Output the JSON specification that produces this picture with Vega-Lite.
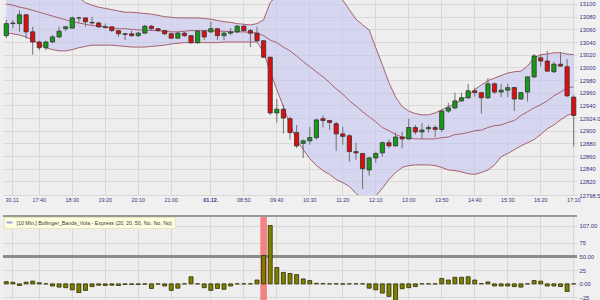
{
  "$schema": "https://vega.github.io/schema/vega-lite/v6.json",
  "background": "#f0f0f0",
  "padding": {"left": 2, "top": 0, "right": 0, "bottom": 0},
  "spacing": 12,
  "resolve": {"legend": {"color": "independent"}},
  "config": {
    "font": "Liberation Sans",
    "view": {"fill": "#eeeeee", "stroke": null},
    "axis": {"domain": false, "ticks": false, "gridColor": "#d8d8d8", "gridOpacity": 1, "labelColor": "#333380", "labelFont": "Liberation Sans", "labelOverlap": false, "title": null}
  },
  "data": {"values": [
    {"t":"11-30 16:50","o":13050,"h":13075,"l":13046,"c":13069,"u":13146,"m":13100,"b":13054,"v":4},
    {"t":"11-30 17:00","o":13070,"h":13075,"l":13062,"c":13069,"u":13142,"m":13098,"b":13053,"v":3},
    {"t":"11-30 17:10","o":13069,"h":13090,"l":13056,"c":13083,"u":13139,"m":13095,"b":13051,"v":-3},
    {"t":"11-30 17:20","o":13083,"h":13084,"l":13045,"c":13056,"u":13138,"m":13093,"b":13048,"v":3},
    {"t":"11-30 17:30","o":13056,"h":13064,"l":13020,"c":13040,"u":13138,"m":13090,"b":13043,"v":5},
    {"t":"11-30 17:40","o":13040,"h":13042,"l":13027,"c":13031,"u":13138,"m":13087,"b":13037,"v":2},
    {"t":"11-30 17:50","o":13031,"h":13042,"l":13027,"c":13040,"u":13137,"m":13084,"b":13031,"v":0},
    {"t":"11-30 18:00","o":13040,"h":13051,"l":13038,"c":13048,"u":13135,"m":13081,"b":13028,"v":-4},
    {"t":"11-30 18:10","o":13048,"h":13064,"l":13046,"c":13057,"u":13130,"m":13078,"b":13026,"v":-6},
    {"t":"11-30 18:20","o":13061,"h":13065,"l":13057,"c":13064,"u":13124,"m":13075,"b":13026,"v":-7},
    {"t":"11-30 18:30","o":13062,"h":13080,"l":13061,"c":13078,"u":13116,"m":13072,"b":13028,"v":-11},
    {"t":"11-30 18:40","o":13078,"h":13080,"l":13070,"c":13078,"u":13110,"m":13070,"b":13031,"v":-16},
    {"t":"11-30 18:50","o":13078,"h":13078,"l":13064,"c":13072,"u":13102,"m":13068,"b":13033,"v":-12},
    {"t":"11-30 19:00","o":13071,"h":13080,"l":13067,"c":13070,"u":13098,"m":13066,"b":13035,"v":-5},
    {"t":"11-30 19:10","o":13070,"h":13072,"l":13062,"c":13064,"u":13095,"m":13065,"b":13035,"v":-2.5},
    {"t":"11-30 19:20","o":13064,"h":13069,"l":13061,"c":13063,"u":13093,"m":13064,"b":13035,"v":-3},
    {"t":"11-30 19:30","o":13064,"h":13064,"l":13056,"c":13058,"u":13091,"m":13062,"b":13035,"v":-2.5},
    {"t":"11-30 19:40","o":13058,"h":13059,"l":13048,"c":13053,"u":13089,"m":13061,"b":13034,"v":-3},
    {"t":"11-30 19:50","o":13053,"h":13054,"l":13043,"c":13052,"u":13087,"m":13061,"b":13033,"v":-1},
    {"t":"11-30 20:00","o":13053,"h":13058,"l":13048,"c":13050,"u":13087,"m":13060,"b":13032,"v":-1},
    {"t":"11-30 20:10","o":13050,"h":13056,"l":13048,"c":13054,"u":13086,"m":13059,"b":13032,"v":-1},
    {"t":"11-30 20:20","o":13054,"h":13067,"l":13053,"c":13065,"u":13085,"m":13059,"b":13032,"v":-0.5},
    {"t":"11-30 20:30","o":13065,"h":13067,"l":13058,"c":13061,"u":13084,"m":13058,"b":13033,"v":-8.5},
    {"t":"11-30 20:40","o":13061,"h":13062,"l":13056,"c":13058,"u":13082,"m":13058,"b":13034,"v":-0.5},
    {"t":"11-30 20:50","o":13058,"h":13059,"l":13051,"c":13053,"u":13080,"m":13057,"b":13035,"v":-4},
    {"t":"11-30 21:00","o":13053,"h":13054,"l":13045,"c":13046,"u":13079,"m":13056,"b":13037,"v":-12},
    {"t":"11-30 21:10","o":13046,"h":13056,"l":13045,"c":13054,"u":13078,"m":13056,"b":13038,"v":-8},
    {"t":"11-30 21:20","o":13054,"h":13056,"l":13048,"c":13050,"u":13078,"m":13057,"b":13039,"v":0},
    {"t":"11-30 21:30","o":13050,"h":13051,"l":13037,"c":13039,"u":13078,"m":13058,"b":13039,"v":13},
    {"t":"11-30 21:40","o":13039,"h":13059,"l":13037,"c":13057,"u":13078,"m":13058,"b":13039,"v":0},
    {"t":"11-30 21:50","o":13057,"h":13059,"l":13043,"c":13048,"u":13077,"m":13058,"b":13039,"v":-7},
    {"t":"12-01 08:00","o":13056,"h":13072,"l":13054,"c":13061,"u":13076,"m":13058,"b":13039,"v":-12},
    {"t":"12-01 08:10","o":13061,"h":13062,"l":13043,"c":13050,"u":13074,"m":13057,"b":13039,"v":-8.5},
    {"t":"12-01 08:20","o":13050,"h":13056,"l":13043,"c":13054,"u":13072,"m":13057,"b":13040,"v":-10},
    {"t":"12-01 08:30","o":13054,"h":13062,"l":13051,"c":13056,"u":13071,"m":13056,"b":13040,"v":-4},
    {"t":"12-01 08:40","o":13056,"h":13067,"l":13054,"c":13065,"u":13069,"m":13056,"b":13040,"v":0},
    {"t":"12-01 08:50","o":13065,"h":13067,"l":13056,"c":13058,"u":13068,"m":13056,"b":13040,"v":0},
    {"t":"12-01 09:00","o":13058,"h":13061,"l":13032,"c":13054,"u":13067,"m":13055,"b":13040,"v":0},
    {"t":"12-01 09:10","o":13054,"h":13064,"l":13040,"c":13042,"u":13069,"m":13054,"b":13040,"v":7},
    {"t":"12-01 09:20","o":13042,"h":13043,"l":13015,"c":13016,"u":13075,"m":13050,"b":13024,"v":52},
    {"t":"12-01 09:30","o":13016,"h":13016,"l":12925,"c":12928,"u":13102,"m":13043,"b":12993,"v":107},
    {"t":"12-01 09:40","o":12928,"h":12950,"l":12913,"c":12934,"u":13114,"m":13039,"b":12965,"v":30},
    {"t":"12-01 09:50","o":12934,"h":12941,"l":12895,"c":12920,"u":13130,"m":13032,"b":12938,"v":21},
    {"t":"12-01 10:00","o":12919,"h":12922,"l":12886,"c":12897,"u":13146,"m":13026,"b":12909,"v":19},
    {"t":"12-01 10:10","o":12897,"h":12909,"l":12873,"c":12876,"u":13154,"m":13018,"b":12886,"v":17},
    {"t":"12-01 10:20","o":12880,"h":12886,"l":12857,"c":12884,"u":13154,"m":13009,"b":12870,"v":9},
    {"t":"12-01 10:30","o":12884,"h":12906,"l":12878,"c":12889,"u":13150,"m":13001,"b":12856,"v":6},
    {"t":"12-01 10:40","o":12889,"h":12919,"l":12886,"c":12917,"u":13146,"m":12993,"b":12845,"v":1},
    {"t":"12-01 10:50","o":12919,"h":12924,"l":12905,"c":12916,"u":13138,"m":12985,"b":12837,"v":0.5},
    {"t":"12-01 11:00","o":12916,"h":12917,"l":12901,"c":12913,"u":13125,"m":12976,"b":12831,"v":0},
    {"t":"12-01 11:10","o":12911,"h":12914,"l":12868,"c":12895,"u":13114,"m":12966,"b":12823,"v":0},
    {"t":"12-01 11:20","o":12895,"h":12906,"l":12878,"c":12891,"u":13106,"m":12958,"b":12818,"v":-0.5},
    {"t":"12-01 11:30","o":12892,"h":12895,"l":12851,"c":12867,"u":13091,"m":12947,"b":12812,"v":0},
    {"t":"12-01 11:40","o":12867,"h":12881,"l":12854,"c":12865,"u":13076,"m":12939,"b":12801,"v":0},
    {"t":"12-01 11:50","o":12864,"h":12865,"l":12808,"c":12840,"u":13067,"m":12930,"b":12793,"v":0},
    {"t":"12-01 12:00","o":12838,"h":12859,"l":12829,"c":12857,"u":13059,"m":12922,"b":12793,"v":-8},
    {"t":"12-01 12:10","o":12857,"h":12867,"l":12849,"c":12864,"u":13031,"m":12914,"b":12797,"v":-11},
    {"t":"12-01 12:20","o":12865,"h":12883,"l":12859,"c":12881,"u":13004,"m":12905,"b":12809,"v":-17},
    {"t":"12-01 12:30","o":12881,"h":12886,"l":12873,"c":12876,"u":12976,"m":12900,"b":12823,"v":-23},
    {"t":"12-01 12:40","o":12876,"h":12897,"l":12875,"c":12890,"u":12953,"m":12894,"b":12834,"v":-32},
    {"t":"12-01 12:50","o":12890,"h":12898,"l":12872,"c":12887,"u":12938,"m":12890,"b":12842,"v":-9},
    {"t":"12-01 13:00","o":12887,"h":12919,"l":12886,"c":12905,"u":12931,"m":12889,"b":12845,"v":-7},
    {"t":"12-01 13:10","o":12905,"h":12909,"l":12894,"c":12898,"u":12927,"m":12887,"b":12846,"v":-5},
    {"t":"12-01 13:20","o":12898,"h":12912,"l":12887,"c":12901,"u":12925,"m":12887,"b":12846,"v":0},
    {"t":"12-01 13:30","o":12903,"h":12909,"l":12897,"c":12905,"u":12925,"m":12887,"b":12846,"v":0},
    {"t":"12-01 13:40","o":12905,"h":12909,"l":12890,"c":12902,"u":12928,"m":12887,"b":12845,"v":0},
    {"t":"12-01 13:50","o":12902,"h":12933,"l":12898,"c":12931,"u":12933,"m":12889,"b":12842,"v":10},
    {"t":"12-01 14:00","o":12931,"h":12944,"l":12928,"c":12936,"u":12938,"m":12890,"b":12838,"v":7},
    {"t":"12-01 14:10","o":12936,"h":12960,"l":12934,"c":12947,"u":12942,"m":12894,"b":12837,"v":12},
    {"t":"12-01 14:20","o":12947,"h":12960,"l":12946,"c":12952,"u":12949,"m":12895,"b":12835,"v":12},
    {"t":"12-01 14:30","o":12952,"h":12974,"l":12950,"c":12963,"u":12955,"m":12897,"b":12832,"v":13},
    {"t":"12-01 14:40","o":12963,"h":12968,"l":12954,"c":12960,"u":12965,"m":12900,"b":12831,"v":7},
    {"t":"12-01 14:50","o":12960,"h":12961,"l":12927,"c":12952,"u":12972,"m":12901,"b":12834,"v":0.5},
    {"t":"12-01 15:00","o":12952,"h":12983,"l":12950,"c":12974,"u":12979,"m":12905,"b":12838,"v":3.5},
    {"t":"12-01 15:10","o":12974,"h":12976,"l":12958,"c":12961,"u":12983,"m":12908,"b":12846,"v":-4},
    {"t":"12-01 15:20","o":12961,"h":12974,"l":12953,"c":12964,"u":12987,"m":12909,"b":12859,"v":-4},
    {"t":"12-01 15:30","o":12964,"h":12974,"l":12953,"c":12968,"u":12991,"m":12913,"b":12864,"v":-4},
    {"t":"12-01 15:40","o":12968,"h":12969,"l":12931,"c":12950,"u":12993,"m":12916,"b":12870,"v":-5},
    {"t":"12-01 15:50","o":12950,"h":12961,"l":12949,"c":12960,"u":12994,"m":12924,"b":12876,"v":-6},
    {"t":"12-01 16:00","o":12961,"h":12985,"l":12946,"c":12985,"u":13002,"m":12930,"b":12881,"v":0},
    {"t":"12-01 16:10","o":12985,"h":13021,"l":12983,"c":13018,"u":13015,"m":12936,"b":12886,"v":6},
    {"t":"12-01 16:20","o":13015,"h":13021,"l":13001,"c":13010,"u":13020,"m":12941,"b":12894,"v":5},
    {"t":"12-01 16:30","o":13010,"h":13026,"l":12993,"c":12994,"u":13021,"m":12947,"b":12903,"v":-4},
    {"t":"12-01 16:40","o":12993,"h":13009,"l":12991,"c":13005,"u":13023,"m":12955,"b":12909,"v":-4},
    {"t":"12-01 16:50","o":13005,"h":13024,"l":13001,"c":13002,"u":13023,"m":12961,"b":12917,"v":-5},
    {"t":"12-01 17:00","o":13001,"h":13013,"l":12953,"c":12955,"u":13021,"m":12968,"b":12924,"v":-14},
    {"t":"12-01 17:10","o":12953,"h":12956,"l":12875,"c":12924,"u":13020,"m":12969,"b":12928,"v":0}
  ]},
  "vconcat": [
    {
      "width": 574,
      "height": 195,
      "encoding": {
        "x": {
          "field": "t", "type": "ordinal",
          "scale": {"type": "band", "paddingInner": 0, "paddingOuter": 0},
          "axis": {
            "values": ["11-30 17:00","11-30 17:40","11-30 18:30","11-30 19:20","11-30 20:10","11-30 21:00","12-01 08:00","12-01 08:50","12-01 09:40","12-01 10:30","12-01 11:20","12-01 12:10","12-01 13:00","12-01 13:50","12-01 14:40","12-01 15:30","12-01 16:20","12-01 17:10"],
            "labelExpr": "datum.value == '11-30 17:00' ? '30.11.' : datum.value == '12-01 08:00' ? '01.12.' : slice(datum.value, 6)",
            "labelFontWeight": {"condition": {"test": "datum.value == '12-01 08:00'", "value": "bold"}, "value": "normal"},
            "labelAngle": 0, "labelFontSize": 5.4, "labelPadding": 2, "grid": true, "labelOverlap": false
          }
        }
      },
      "layer": [
        {
          "mark": {"type": "area", "clip": true, "color": "#c6c6f2", "opacity": 0.6},
          "encoding": {
            "y": {
              "field": "u", "type": "quantitative",
              "scale": {"domain": [12798.5, 13106.3], "nice": false, "zero": false},
              "axis": {
                "orient": "right",
                "values": [12798.5, 12820, 12840, 12860, 12880, 12900, 12920, 12940, 12960, 12980, 13000, 13020, 13040, 13060, 13080, 13100],
                "tickCount": 100,
                "labelExpr": "datum.value == 12798.5 ? '12798.5' : datum.value == 12920 ? '12924.0' : format(datum.value, 'd')",
                "labelFontSize": 5.8, "labelPadding": 2, "grid": true, "labelOverlap": false
              }
            },
            "y2": {"field": "b"}
          }
        },
        {"mark": {"type": "line", "clip": true, "color": "#a8606c", "strokeWidth": 1}, "encoding": {"y": {"field": "u", "type": "quantitative"}}},
        {"mark": {"type": "line", "clip": true, "color": "#a8606c", "strokeWidth": 1}, "encoding": {"y": {"field": "m", "type": "quantitative"}}},
        {"mark": {"type": "line", "clip": true, "color": "#a8606c", "strokeWidth": 1}, "encoding": {"y": {"field": "b", "type": "quantitative"}}},
        {"mark": {"type": "rule", "color": "#707070", "strokeWidth": 1}, "encoding": {"y": {"field": "l", "type": "quantitative"}, "y2": {"field": "h"}}},
        {
          "mark": {"type": "bar", "size": 4.2, "stroke": "#333333", "strokeWidth": 0.8},
          "encoding": {
            "y": {"field": "o", "type": "quantitative"},
            "y2": {"field": "c"},
            "fill": {"condition": {"test": "datum.c >= datum.o", "value": "#169b16"}, "value": "#e00d0d"}
          }
        }
      ]
    },
    {
      "width": 574,
      "height": 94,
      "layer": [
        {
          "data": {"values": [{"t": "12-01 09:20"}]},
          "mark": {"type": "bar", "color": "#f38383"},
          "encoding": {
            "x": {
              "field": "t", "type": "ordinal",
              "scale": {"type": "band", "paddingInner": 0, "paddingOuter": 0},
              "axis": {
                "values": ["11-30 17:00","11-30 17:40","11-30 18:30","11-30 19:20","11-30 20:10","11-30 21:00","12-01 08:00","12-01 08:50","12-01 09:40","12-01 10:30","12-01 11:20","12-01 12:10","12-01 13:00","12-01 13:50","12-01 14:40","12-01 15:30","12-01 16:20","12-01 17:10"],
                "labels": false, "grid": true
              }
            },
            "width": {"band": 1}
          }
        },
        {
          "mark": {"type": "rule", "color": "#8c8c8c", "strokeWidth": 2},
          "encoding": {"y": {"datum": 50, "type": "quantitative"}}
        },
        {
          "mark": {"type": "rule", "color": "#999999", "strokeWidth": 1},
          "encoding": {"y": {"datum": 124.5, "type": "quantitative"}}
        },
        {
          "mark": {"type": "bar", "size": 4, "fill": "#7f7f00", "stroke": "#2d2d00", "strokeWidth": 0.8},
          "encoding": {
            "x": {"field": "t", "type": "ordinal"},
            "y": {
              "field": "v", "type": "quantitative",
              "scale": {"domain": [-48, 124.5], "nice": false, "zero": false},
              "axis": {
                "orient": "right",
                "values": [-25, 0, 25, 50, 75, 107],
                "tickCount": 100,
                "labelExpr": "datum.value == 107 ? '107.00' : datum.value == 50 ? '50.00' : datum.value == 0 ? '0.00' : datum.label",
                "labelFontSize": 5.8, "labelPadding": 2, "grid": true, "labelOverlap": false
              }
            },
            "y2": {"datum": 0}
          }
        },
        {
          "data": {"values": []},
          "mark": {"type": "line"},
          "encoding": {
            "x": {"field": "t", "type": "ordinal"},
            "y": {"field": "v", "type": "quantitative"},
            "color": {
              "datum": "[10 Min.] Bollinger_Bands_Vola - Express  (20, 20, 50, No, No, No)",
              "type": "nominal",
              "scale": {"range": ["#a0a4e8"]},
              "legend": {
                "orient": "top-left", "offset": 1, "padding": 1.5, "title": null,
                "fillColor": "#ffffe0", "strokeColor": "#e6e6c0",
                "symbolType": "stroke", "symbolSize": 36, "symbolStrokeWidth": 2,
                "labelFontSize": 5.3, "labelColor": "#333333", "labelLimit": 400, "labelOffset": 3
              }
            }
          }
        }
      ]
    }
  ]
}
